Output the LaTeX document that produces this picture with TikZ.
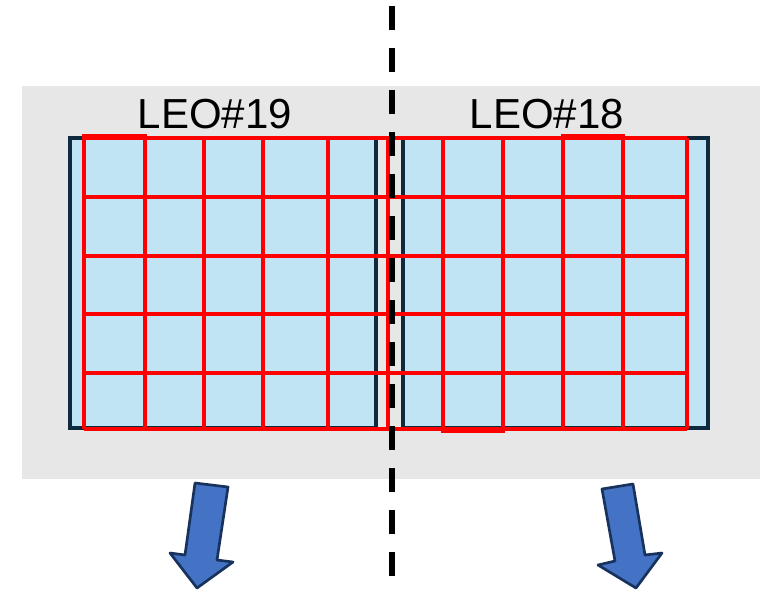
\documentclass[tikz,border=0pt]{standalone}
\usepackage{fontspec}
\setmainfont{Liberation Sans}
\definecolor{bggray}{HTML}{E7E7E7}
\definecolor{panelblue}{HTML}{C1E4F4}
\definecolor{paneledge}{HTML}{0E2A3E}
\definecolor{arrowblue}{HTML}{4472C4}
\definecolor{arrowedge}{HTML}{18325E}
\begin{document}
\begin{tikzpicture}[x=0.75pt,y=-0.75pt,
  panel/.style={fill=panelblue,draw=paneledge,line width=2.4pt},
  gridline/.style={draw=red,line width=2.3pt},
  hilite/.style={draw=red,line width=2.6pt},
  blockarrow/.style={fill=arrowblue,draw=arrowedge,line width=2pt,line join=round},
  sep/.style={draw=black,line width=4.5pt,dash pattern=on 18pt off 13.5pt},
  leolabel/.style={anchor=base,inner sep=0pt,font=\fontsize{31.5pt}{36pt}\selectfont}]
\useasboundingbox (0,0) rectangle (760,593);
% background
\fill[bggray] (22,86) rectangle (760,479);
% satellite panels
\draw[panel] (70,138) rectangle (376,428);
\draw[panel] (403,138) rectangle (708,428);
% red beam grid
\foreach \x in {84,145,204,263,328,388,443,503,563,623,687}
  \draw[gridline] (\x,138) -- (\x,429);
\foreach \y in {138,197,256,314,373,429}
  \draw[gridline] (84,\y) -- (687,\y);
% highlighted cells
\draw[hilite] (84,136) rectangle (145,197);
\draw[hilite] (563,136) rectangle (623,197);
\draw[hilite] (443,373) rectangle (503,431);
% separator
\coordinate (septop) at (392,6);
\coordinate (sepbot) at (392,576);
\draw[sep] (septop) -- (sepbot);
% labels
\node[leolabel] (leo19) at (215,128) {LEO\#19};
\node[leolabel] (leo18) at (547,128) {LEO\#18};
% arrows
\draw[blockarrow] (195,483) -- (228,487) -- (217,560) -- (233,562) -- (197,588) -- (170,553) -- (185,555) -- cycle;
\draw[blockarrow] (602,489) -- (633,484) -- (645,555) -- (662,553) -- (636,588) -- (598,565) -- (615,561) -- cycle;
\end{tikzpicture}
\end{document}
